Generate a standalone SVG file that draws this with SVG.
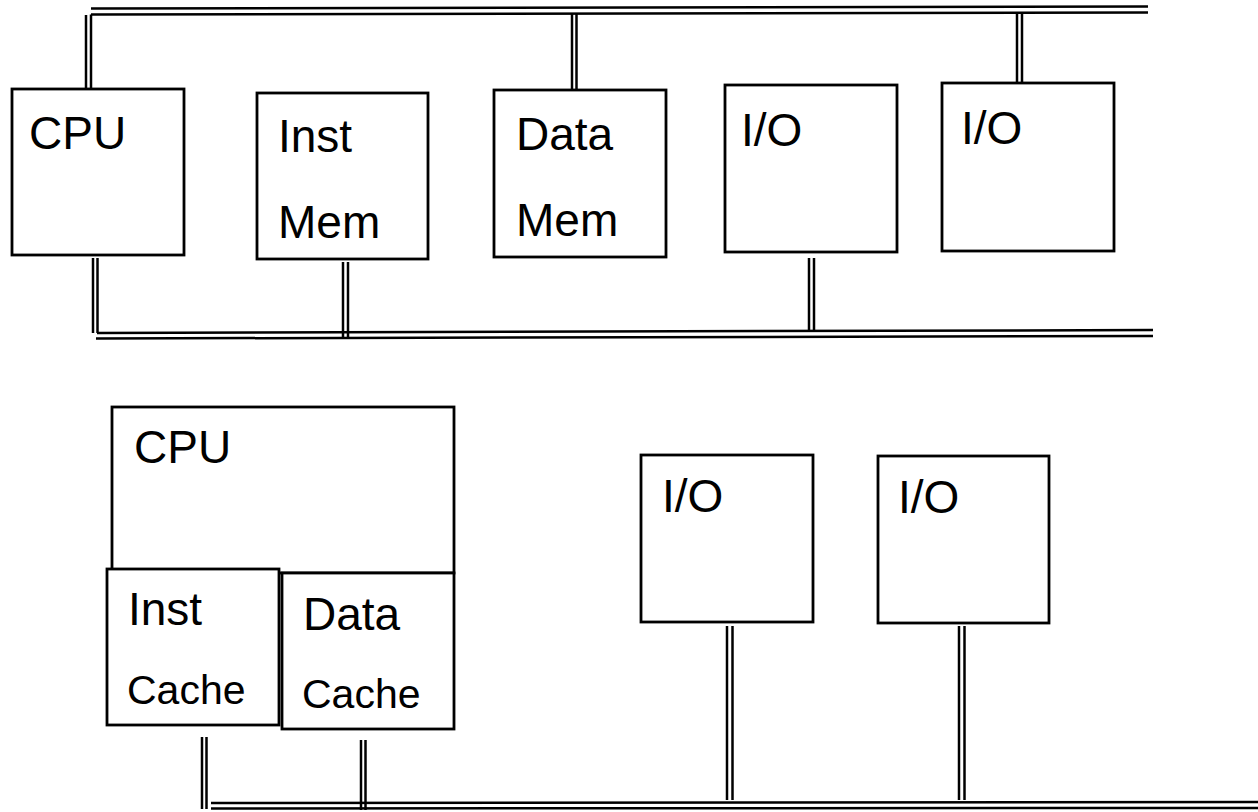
<svg xmlns="http://www.w3.org/2000/svg" width="1258" height="812" viewBox="0 0 1258 812">
<style>
.box{fill:#fff;stroke:#000;stroke-width:2.8}
.ln{stroke:#000;stroke-width:2.5;fill:none}
.t{font-family:"Liberation Sans",Arial,sans-serif;font-size:46px;fill:#000}
.s{font-size:41px}
</style>
<rect width="1258" height="812" fill="#fff"/>
<g id="connectors">
<line class="ln" x1="91" y1="8.5" x2="1148" y2="6.5"/>
<line class="ln" x1="91" y1="14.5" x2="1148" y2="12.5"/>
<line class="ln" x1="86" y1="15" x2="86" y2="89"/>
<line class="ln" x1="91" y1="14.5" x2="91" y2="89"/>
<line class="ln" x1="572" y1="14" x2="572" y2="90"/>
<line class="ln" x1="576.5" y1="14" x2="576.5" y2="90"/>
<line class="ln" x1="1017" y1="12.5" x2="1017" y2="83"/>
<line class="ln" x1="1022" y1="12.5" x2="1022" y2="83"/>
<line class="ln" x1="97" y1="333" x2="1153" y2="330"/>
<line class="ln" x1="96" y1="338.5" x2="1153" y2="336"/>
<line class="ln" x1="93" y1="258" x2="93" y2="333"/>
<line class="ln" x1="97.5" y1="258" x2="97.5" y2="333"/>
<line class="ln" x1="343" y1="262" x2="343" y2="338"/>
<line class="ln" x1="348" y1="262" x2="348" y2="338"/>
<line class="ln" x1="809" y1="258" x2="809" y2="332"/>
<line class="ln" x1="814" y1="258" x2="814" y2="332"/>
<line class="ln" x1="211" y1="803" x2="1258" y2="802"/>
<line class="ln" x1="211" y1="808.5" x2="1258" y2="808"/>
<line class="ln" x1="202" y1="737" x2="202" y2="809"/>
<line class="ln" x1="206.5" y1="737" x2="206.5" y2="809"/>
<line class="ln" x1="361" y1="740" x2="361" y2="810"/>
<line class="ln" x1="365.5" y1="740" x2="365.5" y2="810"/>
<line class="ln" x1="727" y1="626" x2="727" y2="800"/>
<line class="ln" x1="732.5" y1="626" x2="732.5" y2="800"/>
<line class="ln" x1="959" y1="626" x2="959" y2="800"/>
<line class="ln" x1="964.5" y1="626" x2="964.5" y2="800"/>
</g>
<g id="cpu1"><rect class="box" x="12" y="89" width="172" height="166"/><text class="t" x="29" y="149">CPU</text></g>
<g id="instmem"><rect class="box" x="257" y="93" width="171" height="166"/><text class="t" x="278" y="152">Inst</text><text class="t" x="278" y="238">Mem</text></g>
<g id="datamem"><rect class="box" x="494" y="90" width="172" height="167"/><text class="t" x="516" y="150">Data</text><text class="t" x="516" y="236">Mem</text></g>
<g id="io1"><rect class="box" x="725" y="85" width="172" height="167"/><text class="t" x="741" y="146">I/O</text></g>
<g id="io2"><rect class="box" x="942" y="83" width="172" height="168"/><text class="t" x="961" y="144">I/O</text></g>
<g id="cpu2"><rect class="box" x="112" y="407" width="342" height="166"/><text class="t" x="134" y="463">CPU</text></g>
<g id="instcache"><rect class="box" x="107" y="569" width="172" height="156"/><text class="t" x="128" y="625">Inst</text><text class="t s" x="127" y="704">Cache</text></g>
<g id="datacache"><rect class="box" x="282" y="573" width="172" height="156"/><text class="t" x="303" y="630">Data</text><text class="t s" x="302" y="708">Cache</text></g>
<g id="io3"><rect class="box" x="641" y="455" width="172" height="167"/><text class="t" x="662" y="512">I/O</text></g>
<g id="io4"><rect class="box" x="878" y="456" width="171" height="167"/><text class="t" x="898" y="513">I/O</text></g>
</svg>
